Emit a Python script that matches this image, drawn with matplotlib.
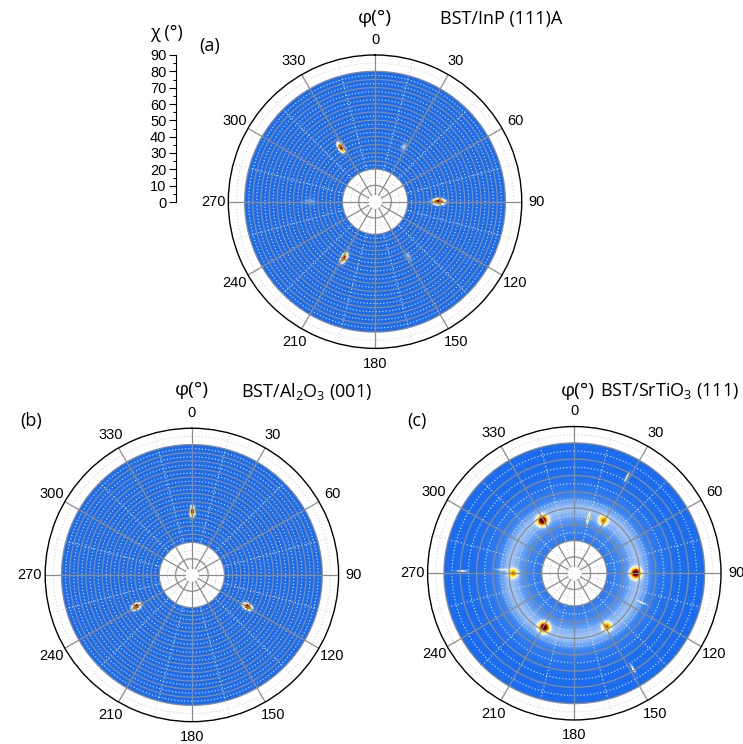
import numpy as np
import matplotlib
matplotlib.use("Agg")
import matplotlib.pyplot as plt
from matplotlib.colors import LinearSegmentedColormap

plt.rcParams['font.family'] = ['Open Sans', 'DejaVu Sans']
plt.rcParams['mathtext.default'] = 'regular'

# pole figure peaks: azimuth phi (deg), tilt chi (deg), intensity, radial / tangential width (deg)
inp_phi = [90, 328, 209, 28, 149, 270]
inp_chi = [39.0, 39.4, 39.4, 38.3, 39.4, 40.0]
inp_amp = [1.0, 0.8, 0.8, 0.2, 0.2, 0.18]
inp_sr = [2.5, 2.4, 2.4, 2.0, 2.0, 2.0]
inp_st = [1.25, 1.2, 1.2, 1.2, 1.2, 1.2]

sap_phi = [0.5, 240.4, 119.7]
sap_chi = [38.8, 39.3, 39.3]
sap_amp = [0.85, 1.0, 1.0]
sap_sr = [2.3, 2.0, 2.0]
sap_st = [1.0, 1.2, 1.2]

sto_phi = [90, 329, 209.3, 270, 29, 148.7, 28.7, 14.3, 148.4, 271, 273, 113.5]
sto_chi = [37.6, 37.8, 38.0, 37.4, 36.9, 38.3, 67.6, 34.8, 69.0, 69.0, 44.6, 46.0]
sto_amp = [0.92, 0.92, 0.92, 0.5, 0.5, 0.5, 0.4, 0.45, 0.4, 0.3, 0.18, 0.18]
sto_sr = [2.0, 2.0, 2.0, 1.8, 1.8, 1.8, 2.2, 1.8, 2.0, 2.5, 2.5, 2.5]
sto_st = [2.0, 2.0, 2.0, 1.7, 1.7, 1.7, 0.45, 0.45, 0.45, 0.45, 0.35, 0.35]

# diffuse ring around the film peaks on SrTiO3
sto_ring_chi = [36.0, 40.0]
sto_ring_sig = [12.0, 4.0]
sto_ring_amp = [0.1, 0.08]

chi_ticks = list(range(0, 100, 10))
phi_ticks = list(range(0, 360, 30))

cmap = LinearSegmentedColormap.from_list('pole', [
    (0.00, '#1a6df0'), (0.08, '#3d86f2'), (0.16, '#8fbaf5'),
    (0.26, '#f4f8ff'), (0.40, '#fff000'), (0.55, '#ffb000'),
    (0.72, '#e00000'), (0.88, '#8a0000'), (1.00, '#1a0000')])

th_e = np.deg2rad(np.arange(0, 360.5, 0.5))
chi_e = np.arange(20, 80.25, 0.25)
TH, CH = np.meshgrid((th_e[:-1] + th_e[1:]) / 2, (chi_e[:-1] + chi_e[1:]) / 2)
X, Y = CH * np.sin(TH), CH * np.cos(TH)


def intensity(phi, chi, amp, sr, st, ring=None):
    z = np.zeros_like(X)
    if ring is not None:
        for c, s, a in zip(*ring):
            z += a * np.exp(-(CH - c) ** 2 / (2 * s ** 2))
    for p, c, a, r, t in zip(phi, chi, amp, sr, st):
        p = np.deg2rad(p)
        dx, dy = X - c * np.sin(p), Y - c * np.cos(p)
        u = dx * np.sin(p) + dy * np.cos(p)
        v = dx * np.cos(p) - dy * np.sin(p)
        z += a * np.exp(-u ** 2 / (2 * r ** 2) - v ** 2 / (2 * t ** 2))
    return np.clip(z, 0, 1)


def pole_axes(rect, z, solid_r, dotted_r):
    ax = fig.add_axes(rect, projection='polar')
    ax.set_theta_zero_location('N')
    ax.set_theta_direction(-1)
    ax.pcolormesh(th_e, chi_e, z, cmap=cmap, vmin=0, vmax=1, shading='flat',
                  rasterized=True)
    ax.grid(False)
    th = np.linspace(0, 2 * np.pi, 721)
    dots = (0, (1, 1.8))
    for r in dotted_r:
        ax.plot(th, np.full_like(th, r), color='#d8d8d8', lw=0.85, ls=dots)
    for a in range(15, 360, 30):
        ax.plot([np.deg2rad(a)] * 2, [4.5, 90], color='#d8d8d8', lw=0.85, ls=dots)
    for r in solid_r:
        ax.plot(th, np.full_like(th, r), color='#8c8c8c', lw=0.9)
    for a in phi_ticks:
        ax.plot([np.deg2rad(a)] * 2, [4.5, 90], color='#8c8c8c', lw=0.9)
    ax.set_ylim(0, 90)
    ax.set_yticks([])
    ax.set_xticks(np.deg2rad(phi_ticks))
    ax.set_xticklabels([str(t) for t in phi_ticks], family='Liberation Sans',
                       fontsize=10.5)
    ax.tick_params(axis='x', direction='out', length=5, width=0.9, color='k', pad=-1)
    ax.spines['polar'].set_linewidth(1.0)
    ax.spines['polar'].set_color('k')
    return ax


fig = plt.figure(figsize=(7.43, 7.44), dpi=100)

fine_solid = [10] + list(np.arange(20, 80.1, 5))
fine_dot = [5, 15] + list(np.arange(22.5, 80, 5)) + [85]
coarse_solid = list(range(10, 81, 10))
coarse_dot = list(range(5, 90, 10))

pole_axes([0.3073, 0.5317, 0.3949, 0.3944],
          intensity(inp_phi, inp_chi, inp_amp, inp_sr, inp_st), fine_solid, fine_dot)
pole_axes([0.0608, 0.0300, 0.3949, 0.3944],
          intensity(sap_phi, sap_chi, sap_amp, sap_sr, sap_st), fine_solid, fine_dot)
pole_axes([0.5755, 0.0323, 0.3949, 0.3944],
          intensity(sto_phi, sto_chi, sto_amp, sto_sr, sto_st,
                    ring=(sto_ring_chi, sto_ring_sig, sto_ring_amp)),
          coarse_solid, coarse_dot)

# chi scale bar
cax = fig.add_axes([175.5 / 743, 1 - 202 / 744, 0.001, 147 / 744])
cax.set_ylim(0, 90)
cax.set_xticks([])
cax.set_yticks(chi_ticks)
cax.set_yticks(range(5, 90, 10), minor=True)
cax.set_yticklabels([str(t) for t in chi_ticks], family='Liberation Sans', fontsize=10.5)
cax.tick_params(axis='y', which='major', direction='out', length=5, width=0.8, pad=1.5)
cax.tick_params(axis='y', which='minor', direction='out', length=2.5, width=0.8)
for s in ['top', 'right', 'bottom']:
    cax.spines[s].set_visible(False)
cax.spines['left'].set_linewidth(0.8)


def px(x, y):
    return x / 743, 1 - y / 744


fs = 13
fig.text(*px(166, 33), 'χ (°)', fontsize=fs, ha='center', va='center')
fig.text(*px(375, 18), 'φ(°)', fontsize=14, ha='center', va='center')
fig.text(*px(440, 19), 'BST/InP (111)A', fontsize=fs, ha='left', va='center')
fig.text(*px(210, 46), '(a)', fontsize=fs, ha='center', va='center')

fig.text(*px(192, 390), 'φ(°)', fontsize=14, ha='center', va='center')
fig.text(*px(241, 391), 'BST/Al$_2$O$_3$ (001)', fontsize=fs, ha='left', va='center')
fig.text(*px(31, 421), '(b)', fontsize=fs, ha='center', va='center')

fig.text(*px(578, 391), 'φ(°)', fontsize=14, ha='center', va='center')
fig.text(*px(600, 391), 'BST/SrTiO$_3$ (111)', fontsize=fs, ha='left', va='center')
fig.text(*px(417, 421), '(c)', fontsize=fs, ha='center', va='center')

fig.savefig('out.png', dpi=100)
